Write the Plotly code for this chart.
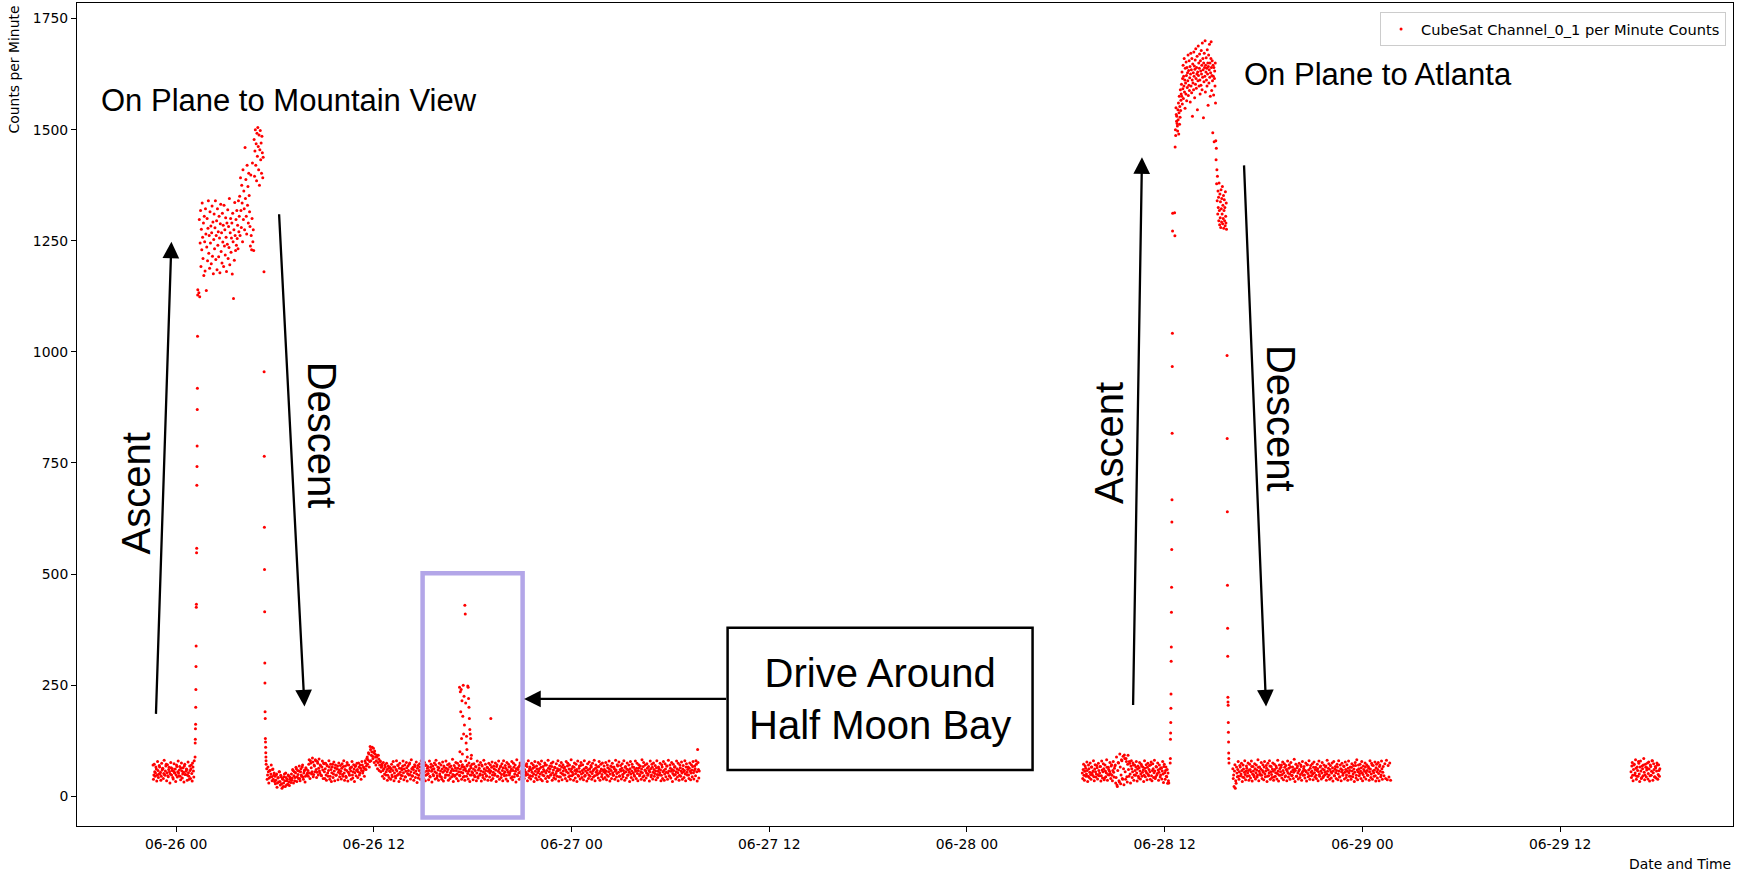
import pandas as pd
import plotly.graph_objects as go

# ---------------- data (per-minute counts) ----------------
ground_a = "70 48 55 52 61 47 58 50 66 54 45 59 62 51 49 57 72 53 46 60 55 50 64 58 42 56 53 61 48 67 55 52 59 45 63 57 50 54 68 49 56 60 47 53 38 58 62 51 75 57 80"
ground_a2 = "38 72 45 66 34 78 42 69 50 36 74 63 40 81 47 68 35 71 44 65 30 76 48 62 39 73 52 33 70 43 79 46 67 37 75 41 64 32 72 49 61 36 77 45 68 40 70 34 66 43"
ascent_1 = "88 120 128 152 162 200 240 292 338 425 432 548 558 700 742 788 870 918 1035 1128 1140"
plateau_1 = """1133 1298 1124 1245 1318 1192 1276 1230 1335 1258
1210 1290 1172 1305 1248 1182 1322 1265 1138 1236
1300 1205 1278 1340 1222 1262 1188 1315 1245 1283
1198 1268 1328 1215 1292 1176 1253 1310 1232 1279
1340 1208 1262 1295 1185 1322 1240 1270 1214 1305
1256 1178 1288 1332 1226 1268 1200 1312 1247 1285
1192 1330 1238 1275 1218 1302 1258 1181 1290 1242
1320 1210 1282 1235 1345 1196 1268 1300 1224 1256
1290 1175 1312 1248 1120 1275 1206 1336 1262 1228
1298 1240 1318 1255 1285 1232 1340 1270
1305 1350 1262 1392 1318 1280 1375 1335 1248 1410
1298 1362 1322 1275 1460 1345 1388 1305 1265 1420
1330 1372 1290 1402 1352 1315
1282 1238 1398 1262 1230 1300 1425 1248 1275 1228
1478 1395 1452 1500 1420 1468 1385 1492 1440 1505
1462 1410 1488 1375 1455 1498 1432 1470 1402 1485
1448 1392 1438"""
descent_1 = "1180 955 765 605 510 415 300 255 190 175 130 122 110 98 88 80 72"
ground_c = """62 48 55 41 58 50 44 60 38 52
45 36 50 30 42 55 33 47 28 40 22 44 35 52 25 38 48 32 43 37
50 41 58 46 35 53 62 44 49 57 40 55 48 66 43 52 59 45 61 50
58 72 52 80 64 55 77 49 68 82 60 54 74 63 57 70 48 66 59 75
55 62 48 70 52 58 66 45 60 53 72 50 57 64 47 61 68 54 59 51
56 63 49 67 52 60 45 58 71 54 50 62 57 66 48 55 61 53 69 58
60 55 66 52 63 58 70 57 64 61
75 68 88 82 95 78 105 92 110 85 98 102 88 80 92 76 84 70 78 65
68 58 62 50 66 55 60 47 63 57
55 62 48 58 66 52 45 60 57 70 50 63 54 47 59 68 53 61 44 56
64 51 58 72 49 55 62 46 60 53 67 57 50 63 41 58 66 52 59 48
61 54 69 47 57 63 51 58 45 65 56 60 49 62 55 71 52 46 59 64
50 57 43 61 54 68 58 48 63 55 60 47 66 53 57 62 49 58 45 64
58 50 63 55 47 61 54 66 52 59 45 62 57 68 51 56 60 48 64 55
53 61 47 58 66 52 44 59 63 50 57 70 48 55 62 51 58 46 64 56
60 52 57 65 48 54 62 50 59 67 45 56 61 53 68 49 58 64 51 55
63 47 59 54 66 52 57 61 44 58 65 50 56 62 48 60 53 69 55 51
58 64 47 60 55 52 67 49 57 62 46 59 54 63 50 66 56 48 61 53
57 62 50 65 54 48 60 56 70 52 58 45 63 55 61 49 67 53 59 47
64 51 56 62 58 44 60 53 66 50 57 63 48 59 55 68 52 61 46 57
62 54 49 65 58 51 60 56 47 63 55 69 50 58 53 61 45 57 64 52
59 48 62 55 66 51 57 60 46 63 54 58 50 67 53 56 61 49 59 55
60 52 57 48 64 55 61 50 58 66 53 47 62 56 59 51 68 54 45 60
57 63 49 58 52 65 55 61 47 59 54 62 50 57 66 53 48 60 56 63
51 58 64 49 55 61 53 67 46 59 57 52 63 50 58 55 62 48 65 54
60 51 57 64 49 56 62 53 59 47 66 55 58 50 61 54 68 52 57 45
63 56 60 51 58 65 49 55 62 53 59 47 64 57 52 61 55 58 50 66
54 60 48 63 56 52 59 67 53 58 62 80 55 105 60 57"""
ground_c2 = """38 66 30 58 44 70 35 61 47 33
28 48 20 41 32 55 25 44 18 38 30 50 22 42 35 27 46 24 39 31
36 60 30 55 42 65 33 58 40 68 35 62 45 70 38 57 32 64 48 52
45 82 40 75 50 86 44 70 55 80 42 78 48 84 52 68 46 79 40 73
40 74 36 68 45 80 38 72 33 66 42 77 35 70 48 62 37 75 44 69
39 73 45 80 36 68 42 76 34 70 47 64 38 78 41 71 33 67 46 74
42 75 48 70 38 78 52 66 45 80
60 85 72 98 66 112 80 100 90 108 76 95 70 88 62 92 58 80 55 72
45 76 40 70 48 74 36 68 42 65
38 72 44 78 35 66 41 80 47 69 33 74 40 63 46 79 37 70 43 76
34 68 48 75 39 82 45 65 36 71 42 77 31 69 47 73 38 80 44 64
40 76 35 70 49 67 37 79 43 72 32 68 46 75 39 81 41 66 36 74
45 70 38 77 34 65 42 79 48 71 36 73 40 68 44 83 33 69 47 76
40 74 35 69 46 78 38 71 43 66 36 80 45 70 39 75 33 68 48 72
37 73 44 67 35 79 41 70 47 76 34 68 42 81 38 72 45 65 36 74
43 70 36 77 40 68 47 75 33 71 45 79 38 66 42 73 35 80 46 69
39 76 34 72 48 67 41 78 37 74 44 70 32 82 46 65 38 75 43 71
36 77 40 69 47 73 35 80 42 66 39 74 45 70 33 78 41 68 37 76
44 72 38 79 35 67 46 75 40 70 33 81 42 68 47 74 36 77 41 65
39 73 45 80 34 69 43 76 37 71 48 66 40 78 35 74 44 70 38 82
46 67 36 75 41 72 33 79 45 68 39 76 42 71 37 80 47 65 34 73
40 77 45 69 38 74 43 81 35 70 48 66 41 78 36 72 44 75 39 68
42 76 37 70 45 79 34 68 40 74 47 66 38 81 43 71 35 77 46 69
39 73 44 80 36 67 41 75 48 70 33 78 42 72 37 65 45 79 40 74
35 71 46 68 38 82 43 76 36 70 41 73 47 67 34 79 44 72 39 75
45 69 37 80 42 66 48 74 35 71 40 78 36 73 44 68 38 81 46 70
41 76 33 72 47 67 39 79 43 74 36 70 45 77 38 69 42 80 35 73
48 66 40 75 37 71 44 78 39 68 46 72 34 76 41"""
drive_spike = "245 100 235 190 240 130 215 95 180 250 140 225 160 430 410 210 120 135 105 88 248 245 220 200 175 150 140 130 85 92"
drive_extra = "175"
ground_d = """52 60 47 56 63 50 58 45 62 54 49 66 53 57 44 61 55 50 64 48
58 52 67 46 59 55 62 41 57 53 65 49 60 56 51 68 47 58 54 63
70 42 25 58 75 32 66 48 80 38 62 93 55 85 44 72 60 78 50 68
62 55 70 48 58 66 52 61 45 64 57 50 68 54 59 47 63 56 52 65
49 60 55 71 46 58 62 53 57 44 66 51 59 54 61 48 63 57 50 67 53 58 45 60 52 30"""
ground_d2 = """40 72 36 68 45 77 33 70 42 75 38 66 47 80 35 71 43 69 39 74
46 67 34 79 41 73 37 70 44 82 36 65 48 76 40 71 35 78 43 68
30 88 22 76 35 95 28 82 40 90 26 85 38 78 32 92 45 74 30 80
42 75 36 70 47 78 34 68 41 76 39 72 45 66 33 80 44 71 37 74
46 69 38 77 35 73 42 81 40 67 48 75 36 70 43 64 39 78 31 72 38 66 44 29 35"""
ascent_2 = "75 85 128 142 166 198 230 304 336 414 470 555 617 667 817 967 1042 1272 1312"
plateau_2 = """1313 1261 1461 1500 1487 1549 1534 1519 1530 1514 1508 1497 1545 1522 1560 1490 1538 1575 1512 1552 1528 1590 1543 1566 1580
1602 1575 1630 1558 1615 1592 1645 1570 1620 1598
1660 1585 1612 1548 1638 1605 1580 1652 1622 1565
1640 1595 1628 1610 1668 1577 1633 1600 1655 1588
1617 1642 1562 1625 1672 1598 1635 1583 1660 1612
1530 1648 1605 1628 1590 1675 1620 1643 1572 1636
1657 1602 1682 1615 1593 1640 1625 1665 1545 1630
1610 1688 1622 1650 1598 1638 1670 1612 1580 1655
1632 1600 1678 1625 1645 1590 1695 1618 1660 1635
1527 1650 1608 1672 1640 1620 1700 1585 1645 1630
1662 1612 1638 1598 1680 1625 1650 1555 1642 1668
1605 1635 1692 1618 1650 1575 1628 1660 1698 1640
1588 1622 1655 1610 1493 1645 1620 1578 1640 1473
1615 1632 1598 1650 1560
1475 1432 1458 1378 1410 1340 1395 1310 1362 1325
1348 1295 1380 1318 1286 1355 1302 1338 1280 1365
1322 1292 1345 1310 1372 1288 1330 1300 1352 1278
1318 1342 1295 1325 1284 1360 1305 1290 1335 1276"""
descent_2 = "992 805 640 475 378 315 223 212 205 166 144 122 97 85 75"
ground_e = """62 48 57 18 29 52 60 45 55 66 50 58 43 61 54 49 57
63 52 58 46 60 55 67 50 57 44 62 53 59 48 65 56 51 61 47 58
54 66 50 57 63 45 59 52 68 55 49 61 56 43 60 53 64 51 57 48
62 55 70 49 58 53 65 46 60 57 52 63 50 66 55 47 59 54 61 58
45 64 52 57 60 49 67 53 56 62 48 58 55 71 51 59 46 63 54 57
50 65 53 60 47 58 62 55 49 66 57 52 61 45 59 54 68 50 56 63
48 60 55 52 64 57 46 61 53 58 66 50 57 44 62 55 59 51 67 54
60 48 56 63 52 58 45 65 57 50 61 54 69 47 59 55 62 51 57 64
53 49 60 56 66 52 58 47 63 55 61 50 70 57 53 59 46 64 55 60
51 67 56 48 62 54"""
ground_e2 = """40 22 71 35 66 44 78 38 69 46 74 33 70 42 80 37 68
45 75 36 72 41 79 34 67 47 73 39 70 43 82 35 66 48 76 40 71 37
78 44 69 33 74 46 80 38 67 42 75 36 72 45 68 39 81 34 70 47 65
41 77 37 73 44 69 35 79 43 71 38 76 46 66 40 83 33 72 45 68 39
74 42 70 36 78 47 67 41 75 34 71 44 80 38 69 46 73 37 77 43 65
40 72 35 79 45 68 39 76 42 70 48 66 36 81 44 73 38 69 41 75 34
78 46 67 40 72 37 80 43 70 35 74 47 68 39 77 42 71 36 79 45 66
38 73 44 69 33 76 41 82 37 70 46 72 40 78 35 68 43 75 39 71 47
67 36 80 42 74 38 69 45 77 34 72 41 76 35 70 44 79 38 67 46 73 40 81 37 69 43 75 36"""
ground_f = "55 68 47 60 72 52 63 45 58 78 50 66 57 42 62 70 54 48 65 59 75 51 61 46 67 56 80 53 60 44 64 57 70 49 58 62"
ground_f2 = "42 76 35 70 48 82 38 66 45 74 33 79 40 68 46 85 37 72 44 64 39 77 34 70 47 80 36 73 43 67 41 75 38 71 45"

# (segment start time, sampling step in minutes, values)
segments = [
    ("2023-06-25 22:36:00", 3, ground_a),
    ("2023-06-25 22:37:30", 3, ground_a2),
    ("2023-06-26 01:09:00", 0.5, ascent_1),
    ("2023-06-26 01:23:00", 1.5, plateau_1),
    ("2023-06-26 05:20:00", 0.5, descent_1),
    ("2023-06-26 05:30:00", 3, ground_c),
    ("2023-06-26 05:31:30", 3, ground_c2),
    ("2023-06-26 17:12:00", 1.5, drive_spike),
    ("2023-06-26 19:06:00", 1, drive_extra),
    ("2023-06-28 07:00:00", 3, ground_d),
    ("2023-06-28 07:01:30", 3, ground_d2),
    ("2023-06-28 12:20:00", 0.5, ascent_2),
    ("2023-06-28 12:36:00", 1, plateau_2),
    ("2023-06-28 15:47:00", 0.5, descent_2),
    ("2023-06-28 16:08:00", 3, ground_e),
    ("2023-06-28 16:09:30", 3, ground_e2),
    ("2023-06-29 16:18:00", 3, ground_f),
    ("2023-06-29 16:19:30", 3, ground_f2),
]

tick_start = "2023-06-26 00:00"
y_ticks = [0, 250, 500, 750, 1000, 1250, 1500, 1750]
series_name = "CubeSat Channel_0_1 per Minute Counts"

# ---------------- build series ----------------
xs, ys = [], []
for start, step, vals in segments:
    v = [int(t) for t in vals.split()]
    t = pd.date_range(start, periods=len(v), freq=pd.Timedelta(minutes=step))
    xs.extend(t)
    ys.extend(v)

base = pd.Timestamp(tick_start)
def T(h):
    return base + pd.Timedelta(hours=h)

fig = go.Figure()
fig.add_trace(go.Scatter(
    x=xs, y=ys, mode="markers", name=series_name,
    marker=dict(color="#ff0000", size=3.0, line=dict(width=0)),
    showlegend=True,
))

ann_font = "Liberation Sans, Arial, sans-serif"
annotations = []
# arrows (tail hour, tail value, head hour, head value)
for th, tv, hh, hv in [(-1.226, 182, -0.285, 1248), (6.246, 1313, 7.79, 202),
                       (58.08, 202, 58.62, 1438), (64.81, 1423, 66.15, 202),
                       (33.47, 219, 21.12, 219)]:
    annotations.append(dict(x=T(hh), y=hv, ax=T(th), ay=tv, xref="x", yref="y",
                            axref="x", ayref="y", text="", showarrow=True,
                            arrowhead=2, arrowsize=1.45, arrowwidth=2.3,
                            arrowcolor="black", standoff=0, startstandoff=0))
for txt, h, v, size, ang in [("On Plane to Mountain View", 6.85, 1565, 31, 0),
                             ("On Plane to Atlanta", 72.93, 1623, 31, 0),
                             ("Ascent", -2.44, 681, 40, -90),
                             ("Descent", 8.87, 813, 40, 90),
                             ("Ascent", 56.66, 794, 40, -90),
                             ("Descent", 67.09, 850, 40, 90),
                             ("Drive Around<br>Half Moon Bay", 42.72, 219, 40, 0)]:
    annotations.append(dict(x=T(h), y=v, xref="x", yref="y", text=txt, showarrow=False,
                            textangle=ang, xanchor="center", yanchor="middle",
                            font=dict(family=ann_font, size=size, color="black")))
# axis titles
annotations.append(dict(x=-0.0383, y=0.999, xref="paper", yref="paper", text="Counts per Minute",
                        showarrow=False, textangle=-90, xanchor="center", yanchor="top",
                        font=dict(family="DejaVu Sans", size=13.9, color="black")))
annotations.append(dict(x=1.0, y=-0.0466, xref="paper", yref="paper", text="Date and Time",
                        showarrow=False, xanchor="right", yanchor="middle",
                        font=dict(family="DejaVu Sans", size=13.9, color="black")))

shapes = [
    dict(type="rect", xref="x", yref="y", x0=T(14.96), x1=T(21.03), y0=-48, y1=502,
         line=dict(color="#b3a6e8", width=4.5), layer="above"),
    dict(type="rect", xref="x", yref="y", x0=T(33.47), x1=T(51.98), y0=59, y1=379,
         line=dict(color="black", width=2.5), fillcolor="white", layer="above"),
]

fig.update_layout(
    width=1739, height=874, autosize=False,
    margin=dict(l=77, r=6, t=3, b=48, pad=0),
    plot_bgcolor="white", paper_bgcolor="white",
    font=dict(family="DejaVu Sans", size=13.9, color="black"),
    annotations=annotations, shapes=shapes,
    legend=dict(x=0.9958, y=0.989, xanchor="right", yanchor="top",
                bgcolor="rgba(255,255,255,0.85)", bordercolor="#cccccc", borderwidth=1,
                font=dict(family="DejaVu Sans", size=14.6, color="black")),
)
fig.update_xaxes(
    type="date", range=[T(-6.015), T(94.49)],
    tick0=tick_start, dtick=12 * 3600 * 1000, tickformat="%m-%d %H",
    showgrid=False, zeroline=False, showline=True, mirror=True,
    linecolor="black", linewidth=1, ticks="outside", ticklen=5, tickwidth=1,
    tickcolor="black", tickfont=dict(family="DejaVu Sans", size=13.9, color="black"),
)
fig.update_yaxes(
    range=[-67, 1785], tickvals=y_ticks,
    showgrid=False, zeroline=False, showline=True, mirror=True,
    linecolor="black", linewidth=1, ticks="outside", ticklen=5, tickwidth=1,
    tickcolor="black", tickfont=dict(family="DejaVu Sans", size=13.9, color="black"),
)

fig.write_html("out.html", config={"displayModeBar": False},
               post_script="document.body.style.margin='0px';document.body.style.overflow='hidden';")
